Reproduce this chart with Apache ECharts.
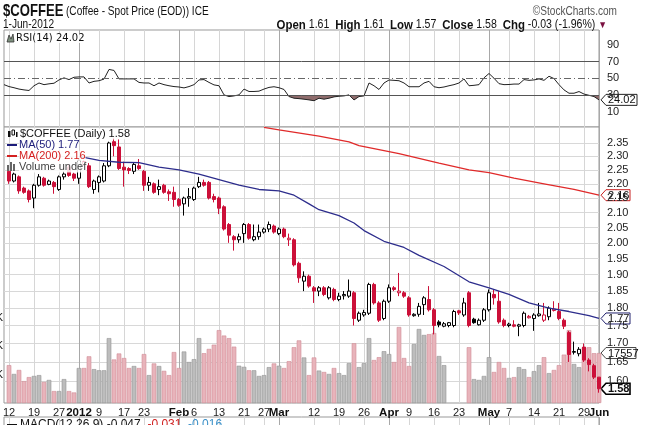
<!DOCTYPE html>
<html>
<head>
<meta charset="utf-8">
<script src="https://cdn.jsdelivr.net/npm/echarts@6/dist/echarts.min.js"></script>
<style>
html, body { margin: 0; padding: 0; background: #fff; }
#chart { width: 646px; height: 425px; }
</style>
</head>
<body>
<div id="chart"></div>
<script>
// trading days shown on the chart (Dec 9 2011 .. Jun 1 2012)
const decDays = [9, 12, 13, 14, 15, 16, 19, 20, 21, 22, 23, 27, 28, 29, 30]
const janDays = [3, 4, 5, 6, 9, 10, 11, 12, 13, 17, 18, 19, 20, 23, 24, 25, 26, 27, 30, 31]
const febDays = [1, 2, 3, 6, 7, 8, 9, 10, 13, 14, 15, 16, 17, 21, 22, 23, 24, 27, 28, 29]
const marDays = [1, 2, 5, 6, 7, 8, 9, 12, 13, 14, 15, 16, 19, 20, 21, 22, 23, 26, 27, 28, 29, 30]
const aprDays = [2, 3, 4, 5, 9, 10, 11, 12, 13, 16, 17, 18, 19, 20, 23, 24, 25, 26, 27, 30]
const mayDays = [1, 2, 3, 4, 7, 8, 9, 10, 11, 14, 15, 16, 17, 18, 21, 22, 23, 24, 25, 29, 30, 31]
const junDays = [1]

const tickDates = ['Dec 12', 'Dec 19', 'Dec 27', 'Jan 3', 'Jan 9', 'Jan 17', 'Jan 23', 'Feb 1', 'Feb 6', 'Feb 13',
  'Feb 21', 'Feb 27', 'Mar 1', 'Mar 12', 'Mar 19', 'Mar 26', 'Apr 2', 'Apr 9', 'Apr 16', 'Apr 23',
  'May 1', 'May 7', 'May 14', 'May 21', 'May 29', 'Jun 1']
const tickLabels = ['12', '19', '27', '2012', '9', '17', '23', 'Feb', '6', '13',
  '21', '27', 'Mar', '12', '19', '26', 'Apr', '9', '16', '23',
  'May', '7', '14', '21', '29', 'Jun']
const monthTicks = ['Jan 3', 'Feb 1', 'Mar 1', 'Apr 2', 'May 1', 'Jun 1']

const priceTicks = [1.60, 1.65, 1.70, 1.75, 1.80, 1.85, 1.90, 1.95, 2.00, 2.05, 2.10, 2.15, 2.20, 2.25, 2.30, 2.35]
const rsiTicks = [10, 30, 50, 70, 90]
const volTicks = [10, 20, 30]

// daily prices, first slot (Dec 9) is empty
const open = [null,
  2.245, 2.21, 2.225, 2.185, 2.175, 2.15, 2.195, 2.22, 2.198, 2.205, 2.18, 2.225, 2.26, 2.235,
  2.22, 2.27, 2.265, 2.18, 2.205, 2.21, 2.265, 2.355, 2.335, 2.26, 2.255, 2.245, 2.265,
  2.245, 2.195, 2.20, 2.18, 2.195, 2.172, 2.17,
  2.145, 2.13, 2.15, 2.145, 2.19, 2.205, 2.205, 2.155, 2.15, 2.12, 2.06, 2.02, 2.01,
  2.03, 2.06, 2.01, 2.02, 2.035, 2.045, 2.055,
  2.03, 2.045, 2.01, 2.01, 1.935, 1.88, 1.895, 1.86, 1.85, 1.86, 1.83, 1.855,
  1.825, 1.836, 1.835, 1.845, 1.765, 1.78, 1.785, 1.87, 1.815, 1.77,
  1.82, 1.86, 1.845, 1.845, 1.83, 1.778, 1.782, 1.81, 1.825, 1.795, 1.76, 1.748, 1.75, 1.75,
  1.792, 1.78, 1.845, 1.768, 1.752, 1.765,
  1.795, 1.84, 1.82, 1.765, 1.75, 1.752, 1.748, 1.75, 1.772, 1.77, 1.778, 1.765, 1.775, 1.793,
  1.79, 1.765, 1.73, 1.676, 1.672, 1.69, 1.655, 1.64,
  1.61]
const close = [null,
  2.21, 2.235, 2.175, 2.17, 2.145, 2.195, 2.225, 2.195, 2.21, 2.19, 2.225, 2.235, 2.23, 2.22,
  2.285, 2.28, 2.19, 2.21, 2.225, 2.265, 2.35, 2.34, 2.255, 2.25, 2.248, 2.27, 2.255,
  2.195, 2.205, 2.17, 2.19, 2.17, 2.165, 2.145,
  2.125, 2.15, 2.155, 2.185, 2.205, 2.195, 2.15, 2.145, 2.115, 2.045, 2.025, 2.01, 2.02,
  2.06, 2.015, 2.02, 2.035, 2.045, 2.06, 2.035,
  2.045, 2.02, 2.015, 1.93, 1.89, 1.895, 1.865, 1.85, 1.86, 1.84, 1.86, 1.825,
  1.835, 1.84, 1.85, 1.77, 1.785, 1.787, 1.87, 1.815, 1.765, 1.82,
  1.86, 1.855, 1.85, 1.835, 1.78, 1.782, 1.805, 1.83, 1.795, 1.75, 1.752, 1.755, 1.758, 1.79,
  1.786, 1.815, 1.75, 1.758, 1.765, 1.795,
  1.845, 1.83, 1.76, 1.75, 1.754, 1.748, 1.752, 1.785, 1.776, 1.78, 1.783, 1.78, 1.80, 1.797,
  1.77, 1.748, 1.67, 1.678, 1.684, 1.655, 1.643, 1.61,
  1.58]
const low = [null,
  2.20, 2.205, 2.165, 2.165, 2.135, 2.115, 2.19, 2.19, 2.195, 2.165, 2.175, 2.215, 2.225, 2.21,
  2.20, 2.265, 2.185, 2.165, 2.17, 2.205, 2.26, 2.30, 2.25, 2.19, 2.235, 2.235, 2.25,
  2.175, 2.175, 2.165, 2.16, 2.165, 2.14, 2.12,
  2.12, 2.09, 2.12, 2.14, 2.185, 2.19, 2.145, 2.135, 2.095, 2.04, 2.0, 1.975, 2.0,
  2.0, 2.01, 2.005, 2.01, 2.03, 2.035, 2.03,
  2.025, 2.015, 1.99, 1.925, 1.875, 1.85, 1.86, 1.815, 1.835, 1.835, 1.825, 1.82,
  1.82, 1.825, 1.83, 1.75, 1.76, 1.775, 1.78, 1.81, 1.76, 1.765,
  1.815, 1.85, 1.835, 1.83, 1.775, 1.775, 1.775, 1.78, 1.79, 1.725, 1.745, 1.745, 1.745, 1.745,
  1.78, 1.775, 1.745, 1.755, 1.75, 1.76,
  1.79, 1.81, 1.755, 1.745, 1.745, 1.745, 1.72, 1.745, 1.77, 1.735, 1.775, 1.76, 1.765, 1.79,
  1.765, 1.74, 1.65, 1.67, 1.665, 1.65, 1.625, 1.605,
  1.57]
const high = [null,
  2.255, 2.24, 2.23, 2.19, 2.18, 2.20, 2.235, 2.225, 2.215, 2.21, 2.23, 2.245, 2.27, 2.24,
  2.29, 2.285, 2.275, 2.215, 2.23, 2.275, 2.355, 2.37, 2.365, 2.28, 2.26, 2.275, 2.29,
  2.25, 2.225, 2.205, 2.215, 2.20, 2.18, 2.19,
  2.15, 2.155, 2.185, 2.19, 2.225, 2.215, 2.21, 2.165, 2.155, 2.125, 2.065, 2.025, 2.03,
  2.065, 2.065, 2.06, 2.06, 2.05, 2.07, 2.06,
  2.05, 2.05, 2.03, 2.015, 1.94, 1.91, 1.90, 1.865, 1.865, 1.865, 1.865, 1.86,
  1.845, 1.85, 1.885, 1.85, 1.79, 1.795, 1.875, 1.875, 1.82, 1.825,
  1.87, 1.865, 1.905, 1.85, 1.835, 1.785, 1.815, 1.835, 1.865, 1.80, 1.765, 1.76, 1.76, 1.795,
  1.795, 1.83, 1.85, 1.772, 1.77, 1.80,
  1.855, 1.855, 1.85, 1.77, 1.758, 1.765, 1.755, 1.79, 1.78, 1.785, 1.815, 1.815, 1.805, 1.82,
  1.815, 1.77, 1.735, 1.705, 1.69, 1.70, 1.66, 1.645,
  1.61]
// volume in thousands (no bars on Apr 19-24)
const volume = [null,
  13.3, 10.2, 11.6, 7.7, 9.1, 9.5, 9.8, 7.4, 8.1, 4.2, 4.2, 8.4, 4.2, 3.7,
  12.3, 12.3, 16.4, 11.9, 11.5, 11.5, 22.8, 15.3, 17.4, 15.8, 12.3, 13.0, 12.3,
  17.2, 9.8, 13.9, 13.0, 11.3, 9.8, 17.9,
  12.3, 18.1, 14.4, 15.4, 22.8, 17.5, 19.0, 20.5, 25.6, 23.7, 22.8, 19.8, 13.1,
  12.7, 11.5, 11.5, 9.5, 9.8, 12.6, 13.9,
  13.1, 12.3, 14.7, 19.6, 22.0, 16.0, 9.8, 16.0, 11.4, 10.9, 10.2, 12.3,
  10.5, 9.8, 14.0, 21.0, 12.6, 14.0, 22.8, 15.1, 16.1, 18.2,
  17.2, 14.4, 26.7, 15.8, 13.0, 20.7, 26.0, 23.9, 24.2, 24.6, 16.5, 13.3, null, null,
  null, null, 19.6, 8.4, 8.1, 9.5,
  16.1, 10.9, 14.4, 12.3, 8.8, 9.1, 12.6, 11.9, 9.1, 11.2, 13.3, 16.1, 10.5, 11.6,
  13.3, 17.0, 25.6, 13.7, 12.6, 19.6, 19.6, 17.5,
  17.557]
const rsi = [42.3,
  40, 38.6, 37, 36, 35.3, 41, 44.3, 42.3, 43.3, 44, 48, 50.5, 48.4, 51.2,
  51.6, 51.6, 44.3, 46.3, 47, 49, 60.6, 59.4, 49.2, 49.2, 49.2, 49.2, 45,
  44.3, 44.3, 41, 44.3, 42.3, 41, 40,
  39.5, 38.4, 40, 42.3, 48, 48.4, 45, 42, 41, 30, 28, 28.8, 30,
  37, 34.1, 34.1, 34.5, 37, 39, 39.8,
  38.6, 36.5, 28, 26, 25.5, 24.8, 24, 23, 26, 24.8, 26, 27.6,
  28.4, 28.8, 30, 23.9, 28, 28.8, 44.3, 41, 36.5, 44.3,
  47.9, 47.5, 47, 44.3, 39.8, 39.8, 39.8, 44.3, 46.3, 39.8, 38.6, 39.5, 41, 42.3,
  44.3, 49.2, 41, 41.5, 42.3, 50.5,
  55.7, 50, 43.5, 42.3, 42.5, 43, 43, 48.4, 47.5, 48, 49.2, 47.5, 52.4, 49.6,
  42.3, 36, 32, 32, 34, 31, 29.5, 28,
  24.02]

const ma50Dates = ['Jan 3', 'Jan 9', 'Jan 13', 'Jan 20', 'Jan 26', 'Feb 1', 'Feb 7', 'Feb 13', 'Feb 17', 'Feb 24',
  'Mar 1', 'Mar 6', 'Mar 9', 'Mar 13', 'Mar 19', 'Mar 22', 'Mar 26', 'Mar 30', 'Apr 5', 'Apr 11',
  'Apr 18', 'Apr 25', 'May 1', 'May 7', 'May 11', 'May 17', 'May 23', 'May 30', 'Jun 1']
const ma50Vals = [2.30, 2.285, 2.278, 2.277, 2.26, 2.25, 2.235, 2.215, 2.195, 2.18,
  2.175, 2.16, 2.13, 2.11, 2.09, 2.065, 2.04, 2.005, 1.985, 1.96,
  1.925, 1.878, 1.86, 1.84, 1.815, 1.80, 1.79, 1.778, 1.77]
const ma200Dates = ['Feb 27', 'Mar 1', 'Mar 13', 'Mar 21', 'Mar 23', 'Apr 4', 'Apr 17', 'Apr 25', 'May 1', 'May 8',
  'May 16', 'May 24', 'Jun 1']
const ma200Vals = [2.41, 2.40, 2.376, 2.354, 2.34, 2.31, 2.275, 2.25, 2.24, 2.22,
  2.20, 2.18, 2.16]

const RED = '#cc1039'
const SANS = '"Liberation Sans", Arial, sans-serif'

const categories = [].concat(
  decDays.map(d => 'Dec ' + d), janDays.map(d => 'Jan ' + d), febDays.map(d => 'Feb ' + d),
  marDays.map(d => 'Mar ' + d), aprDays.map(d => 'Apr ' + d), mayDays.map(d => 'May ' + d),
  junDays.map(d => 'Jun ' + d))

const tickSet = new Set(tickDates)
const monthSet = new Set(monthTicks)
const lastDay = tickDates[tickDates.length - 1]
const isDown = (i) => {
  const prev = i > 0 ? close[i - 1] : null
  return prev != null ? close[i] < prev : close[i] < open[i]
}

const candleData = categories.map((d, i) => {
  if (open[i] == null) return ['-', '-', '-', '-']
  const edge = isDown(i) ? RED : '#000'
  const fill = close[i] >= open[i] ? '#fff' : edge
  return {
    value: [Math.log(open[i]), Math.log(close[i]), Math.log(low[i]), Math.log(high[i])],
    itemStyle: { color: fill, color0: fill, borderColor: edge, borderColor0: edge }
  }
})
const volData = categories.map((d, i) => {
  if (volume[i] == null) return '-'
  const down = isDown(i)
  return {
    value: volume[i],
    itemStyle: { color: down ? '#e8b4bb' : '#bdbdbd', borderColor: down ? '#d08d97' : '#969696' }
  }
})

const labelBase = {
  margin: 4, fontSize: 11, fontFamily: SANS, color: '#222', hideOverlap: false,
  formatter: (val) => {
    const t = tickLabels[tickDates.indexOf(val)]
    return monthSet.has(val) ? '{b|' + t + '}' : t
  },
  rich: { b: { fontWeight: 'bold', fontSize: 11.5, fontFamily: SANS, color: '#111' } }
}
// weekly grid lines; the last label (Jun) is drawn by the month axis so it is never dropped
const weekAxis = (grid, showLabel) => ({
  type: 'category', gridIndex: grid, position: 'bottom', data: categories, boundaryGap: false,
  axisLine: { show: false }, axisTick: { show: false },
  axisLabel: showLabel
    ? Object.assign({}, labelBase, { interval: (idx, val) => tickSet.has(val) && val !== lastDay })
    : { show: false },
  splitLine: { show: true, interval: (idx, val) => tickSet.has(val), lineStyle: { color: '#d6d6d6', width: 1 } }
})
const monthAxis = (grid, showLabel) => ({
  type: 'category', gridIndex: grid, position: 'bottom', offset: 0, data: categories, boundaryGap: false, show: true,
  axisLine: { show: false }, axisTick: { show: false },
  axisLabel: showLabel
    ? Object.assign({}, labelBase, { interval: (idx, val) => val === lastDay, showMaxLabel: true })
    : { show: false },
  splitLine: { show: true, interval: (idx, val) => monthSet.has(val), lineStyle: { color: '#a8a8a8', width: 1 } }
})
const gridBox = (top, height) => ({
  left: 4, right: 47, top: top, height: height, show: true, borderColor: '#999', borderWidth: 1,
  backgroundColor: '#fff', outerBoundsMode: 'none', containLabel: false
})

const chart = echarts.init(document.getElementById('chart'), null, { renderer: 'canvas' })
chart.setOption({
  animation: false,
  backgroundColor: '#fff',
  grid: [gridBox(30, 97), gridBox(127, 276), gridBox(417, 30)],
  xAxis: [weekAxis(0, false), monthAxis(0, false), weekAxis(1, true), monthAxis(1, true), weekAxis(2, false), monthAxis(2, false)],
  yAxis: [
    {
      type: 'value', gridIndex: 0, position: 'right', min: -8.6, max: 108,
      axisLine: { show: false }, axisTick: { show: false, customValues: rsiTicks },
      axisLabel: { customValues: rsiTicks, margin: 8, fontSize: 11, fontFamily: SANS, color: '#222' },
      splitLine: { show: false }
    },
    {
      type: 'value', gridIndex: 1, position: 'right', min: Math.log(1.5441), max: Math.log(2.4115),
      axisLine: { show: false },
      axisTick: { show: false, customValues: priceTicks.map(Math.log) },
      axisLabel: {
        customValues: priceTicks.map(Math.log), margin: 8, fontSize: 11, fontFamily: SANS, color: '#222',
        formatter: v => Math.exp(v).toFixed(2)
      },
      splitLine: { show: true, lineStyle: { color: '#d8d8d8', width: 1 } }
    },
    {
      type: 'value', gridIndex: 1, position: 'left', min: 0, max: 97,
      axisLine: { show: false }, axisTick: { show: false, customValues: volTicks },
      axisLabel: { customValues: volTicks, margin: 1, fontSize: 11, fontFamily: SANS, color: '#222', formatter: v => v + 'K' },
      splitLine: { show: false }
    },
    { type: 'value', gridIndex: 2, show: false, splitLine: { show: false } }
  ],
  series: [
    {
      name: 'Volume', type: 'bar', xAxisIndex: 2, yAxisIndex: 2, data: volData,
      barWidth: 4.6, itemStyle: { borderWidth: 0.6 }, z: 1, silent: true
    },
    {
      name: '$COFFEE', type: 'candlestick', xAxisIndex: 2, yAxisIndex: 1, data: candleData,
      barWidth: 3.6, clip: false, itemStyle: { borderWidth: 1 }, z: 3, silent: true
    },
    {
      name: 'MA(50)', type: 'line', xAxisIndex: 2, yAxisIndex: 1,
      data: ma50Dates.map((d, k) => [d, Math.log(ma50Vals[k])]),
      showSymbol: false, lineStyle: { color: '#2d2d8c', width: 1.3 }, z: 4, silent: true
    },
    {
      name: 'MA(200)', type: 'line', xAxisIndex: 2, yAxisIndex: 1,
      data: ma200Dates.map((d, k) => [d, Math.log(ma200Vals[k])]),
      showSymbol: false, lineStyle: { color: '#e02a2a', width: 1.3 }, z: 4, silent: true
    },
    {
      name: 'RSI fill', type: 'line', xAxisIndex: 0, yAxisIndex: 0,
      data: rsi.map(v => Math.min(v, 30)), showSymbol: false,
      lineStyle: { width: 0 }, areaStyle: { origin: 30, color: '#8f6c6c', opacity: 1 }, z: 2, silent: true
    },
    {
      name: 'RSI(14)', type: 'line', xAxisIndex: 0, yAxisIndex: 0, data: rsi,
      showSymbol: false, lineStyle: { color: '#222', width: 1 }, z: 3, silent: true,
      markLine: {
        silent: true, symbol: 'none', label: { show: false }, animation: false,
        data: [
          { yAxis: 70, lineStyle: { color: '#555', type: 'solid', width: 1 } },
          { yAxis: 50, lineStyle: { color: '#666', type: [7, 3, 1, 3], width: 1 } },
          { yAxis: 30, lineStyle: { color: '#555', type: 'solid', width: 1 } }
        ]
      }
    }
  ]
})

// value tags on the right axis, placed through the axes
function tag(y, text, color, bold, lw, w) {
  const x0 = 601, x1 = 606
  return {
    type: 'group', z: 100, children: [
      { type: 'polygon', shape: { points: [[x0, y], [x1, y - 5.5], [x1 + w, y - 5.5], [x1 + w, y + 5.5], [x1, y + 5.5]] },
        style: { fill: '#fff', stroke: color, lineWidth: lw } },
      { type: 'text', style: { text: text, x: x1 + 2, y: y + 0.5, verticalAlign: 'middle', font: (bold ? 'bold ' : '') + '11px ' + SANS, fill: '#111' } }
    ]
  }
}
const last = close.length - 1
const yRsi = chart.convertToPixel({ yAxisIndex: 0 }, rsi[last])
const y200 = chart.convertToPixel({ yAxisIndex: 1 }, Math.log(ma200Vals[ma200Vals.length - 1]))
const y50 = chart.convertToPixel({ yAxisIndex: 1 }, Math.log(ma50Vals[ma50Vals.length - 1]))
const yVol = chart.convertToPixel({ yAxisIndex: 2 }, volume[last])
const yClose = chart.convertToPixel({ yAxisIndex: 1 }, Math.log(close[last]))

const legendText = (x, y, text, color, font) => ({
  type: 'text', z: 50,
  style: { text: text, x: x, y: y, verticalAlign: 'middle', font: font || '11px ' + SANS, fill: color,
    backgroundColor: 'rgba(255,255,255,0.85)' }
})
// narrow header text: regular sans squeezed horizontally
const narrow = (x, y, text, font, fill, align, sx, rich) => ({
  type: 'text', x: x, y: y, scaleX: sx || 0.84,
  style: { text: text, x: 0, y: 0, align: align || 'left', verticalAlign: 'middle', font: font + ' ' + SANS, fill: fill, rich: rich }
})

chart.setOption({
  graphic: [
    narrow(3, 11, '$COFFEE', 'bold 17px', '#111', 'left', 0.77),
    narrow(66, 12, '(Coffee - Spot Price (EOD)) ICE', '12px', '#111'),
    narrow(617, 12, '\u00a9StockCharts.com', '12px', '#555', 'right'),
    narrow(3, 25, '1-Jun-2012', '12px', '#111'),
    narrow(607, 25, '{b|Open} 1.61  {b|High} 1.61  {b|Low} 1.57  {b|Close} 1.58  {b|Chg} -0.03 (-1.96%) {t|\u25bc}',
      '12px', '#111', 'right', 0.88, {
        b: { font: 'bold 13px ' + SANS, fill: '#111' },
        t: { font: '10px ' + SANS, fill: '#7a1040' }
      }),
    // RSI legend
    { type: 'polygon', z: 50, shape: { points: [[7, 42], [9, 35], [11, 39], [13, 34], [14, 42]] }, style: { fill: '#7d8f7d', stroke: '#333', lineWidth: 0.8 } },
    legendText(16, 38, 'RSI(14) 24.02', '#111', '10px "DejaVu Sans", sans-serif'),
    // price panel legend
    { type: 'rect', z: 50, shape: { x: 8, y: 131, width: 2.5, height: 6 }, style: { fill: '#111' } },
    { type: 'rect', z: 50, shape: { x: 12, y: 130, width: 2.5, height: 5 }, style: { fill: '#fff', stroke: '#111', lineWidth: 1 } },
    { type: 'rect', z: 50, shape: { x: 16, y: 132, width: 1.5, height: 5 }, style: { fill: '#111' } },
    legendText(20, 134, '$COFFEE (Daily) 1.58', '#111'),
    { type: 'line', z: 50, shape: { x1: 7, y1: 145, x2: 17, y2: 145 }, style: { stroke: '#1c1c7a', lineWidth: 2 } },
    legendText(19, 145, 'MA(50) 1.77', '#1c1c7a'),
    { type: 'line', z: 50, shape: { x1: 7, y1: 156, x2: 17, y2: 156 }, style: { stroke: '#d42020', lineWidth: 2 } },
    legendText(19, 156, 'MA(200) 2.16', '#d42020'),
    { type: 'rect', z: 50, shape: { x: 7, y: 165, width: 2, height: 6 }, style: { fill: '#666' } },
    { type: 'rect', z: 50, shape: { x: 10, y: 162, width: 2, height: 9 }, style: { fill: '#666' } },
    { type: 'rect', z: 50, shape: { x: 13, y: 164, width: 2, height: 7 }, style: { fill: '#666' } },
    legendText(19, 167, 'Volume undef', '#444'),
    // MACD panel legend (cut by the bottom edge)
    { type: 'line', z: 50, shape: { x1: 7, y1: 425, x2: 17, y2: 425 }, style: { stroke: '#111', lineWidth: 2 } },
    {
      type: 'text', z: 50,
      style: {
        text: 'MACD(12,26,9) -0.047, {r|-0.031}, {c|-0.016}', x: 20, y: 425, verticalAlign: 'middle',
        font: '12px ' + SANS, fill: '#111',
        rich: { r: { font: '12px ' + SANS, fill: '#d02020' }, c: { font: '12px ' + SANS, fill: '#3a90c8' } }
      }
    },
    tag(yRsi, '24.02', '#222', false, 1, 31),
    tag(y200, '2.16', '#c82020', false, 1, 24),
    tag(y50, '1.77', '#22226e', false, 1, 24),
    tag(yVol, '17557', '#444', false, 1, 30),
    tag(yClose, '1.58', '#000', true, 1.6, 24)
  ]
})
</script>
</body>
</html>
